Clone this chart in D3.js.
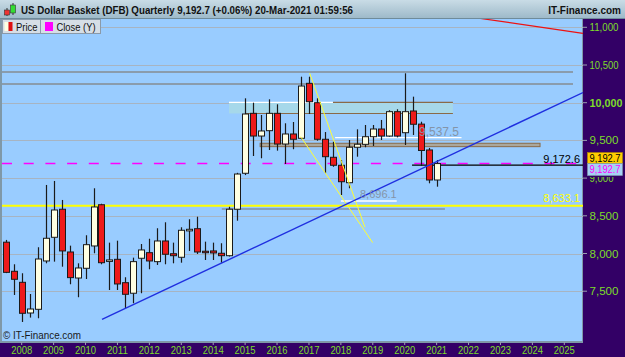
<!DOCTYPE html>
<html><head><meta charset="utf-8">
<script src="https://cdn.jsdelivr.net/npm/d3@7"></script>
<style>html,body{margin:0;padding:0;background:#fff}svg{display:block}text{font-family:"Liberation Sans",Arial,sans-serif}</style>
</head><body><svg id="c" width="625" height="357"></svg>
<script>
// ---------- data ----------
const quarters = ["2007Q3","2007Q4","2008Q1","2008Q2","2008Q3","2008Q4","2009Q1","2009Q2","2009Q3","2009Q4",
"2010Q1","2010Q2","2010Q3","2010Q4","2011Q1","2011Q2","2011Q3","2011Q4","2012Q1","2012Q2",
"2012Q3","2012Q4","2013Q1","2013Q2","2013Q3","2013Q4","2014Q1","2014Q2","2014Q3","2014Q4",
"2015Q1","2015Q2","2015Q3","2015Q4","2016Q1","2016Q2","2016Q3","2016Q4","2017Q1","2017Q2",
"2017Q3","2017Q4","2018Q1","2018Q2","2018Q3","2018Q4","2019Q1","2019Q2","2019Q3","2019Q4",
"2020Q1","2020Q2","2020Q3","2020Q4","2021Q1"];
const openV = [8150,7764,7618,7211,7260,7901,8215,8587,8020,7675,
7804,8100,8647,7900,7923,7613,7473,7937,8011,7892,
8166,7997,7950,8300,8329,8030,8034,8003,7971,8587,
9064,9859,9558,9629,9859,9452,9585,9528,10257,10000,
9515,9276,9170,8939,9409,9448,9549,9651,9558,9881,
9602,9890,9716,9373,8975];
const highV = [8180,7857,7738,7463,8083,8909,8962,8710,8104,7870,
8242,8865,8660,8144,8170,7685,7945,8126,8196,8335,
8414,8144,8348,8454,8488,8157,8144,8136,8620,9070,
10058,10000,9837,10045,9979,9727,9744,10345,10345,10058,
9611,9483,9240,9505,9647,9704,9704,9771,9900,9913,
10390,10080,9748,9400,9240];
const lowV = [7740,7450,7092,7150,7141,7870,7892,7825,7592,7420,
7662,8003,7857,7516,7516,7274,7340,7473,7791,7848,
7857,7870,7878,8034,7994,7914,7914,7878,7960,8435,
9040,9293,9263,9373,9364,9187,9383,9515,9850,9496,
9064,9150,8776,8865,9284,9409,9426,9505,9550,9540,
9439,9572,9161,8931,8886];
const closeV = [7750,7658,7207,7264,7927,8202,8577,8034,7680,7808,
8117,8617,7878,7915,7596,7459,7892,8047,7901,8166,
7990,7971,8308,8321,8020,8011,8007,7971,8587,9054,
9850,9558,9625,9859,9452,9585,9515,10221,10013,9515,
9284,9170,8952,9409,9449,9549,9651,9558,9881,9558,
9881,9714,9366,8975,9192.7];

const yTicks = [7500,8000,8500,9000,9500,10000,10500,11000];
const yTickLabels = ["7,500","8,000","8,500","9,000","9,500","10,000","10,500","11,000"];
const xYears = [2008,2009,2010,2011,2012,2013,2014,2015,2016,2017,2018,2019,2020,2021,2022,2023,2024,2025];

// drawn objects (decimal year, value)
const blueTrend = [[2010.516,7125],[2025.585,10135]];
const redTrend = [[2021.2,11190],[2025.585,10920]];
const yellowFan1 = [[2016.741,9549],[2018.996,8144]];
const yellowFan2 = [[2017.022,10390],[2018.755,8348]];
const brownLevels = [10407,10248];
const bandTeal = [2014.495,2021.51,10003,9857];
const bandGray = [2015.47,2024.24,9462,9417];
const whiteLevels = [[2014.495,2017.75,10003],[2017.82,2021.78,9537.5],[2018.0,2019.75,8696.1]];
const lastClose = 9192.7;
const blackLevel = [2020.23,9172.6];
const yellowLevel = 8633.1;
const grayLevel = [2014.27,2021.26,8590];

// ---------- layout ----------
const W=625,H=357, PL=2, PR=583, PT=19, PB=342;
const svg=d3.select("#c");
const defs=svg.append("defs");
const tg=defs.append("linearGradient").attr("id","tb").attr("x1",0).attr("y1",0).attr("x2",0).attr("y2",1);
tg.append("stop").attr("offset","0").attr("stop-color","#c9dce6");
tg.append("stop").attr("offset","1").attr("stop-color","#9cb8c8");
defs.append("clipPath").attr("id","pc").append("rect").attr("x",PL).attr("y",PT).attr("width",PR-PL).attr("height",PB-PT);

const x=d3.scaleLinear().domain([2008,2025]).range([21.7,564.3]);
const y=d3.scaleLinear().domain([10000,7500]).range([102.7,291.2]);
const qx = q => x(+q.slice(0,4) + (+q.slice(5)-1)*0.25);

// panels
svg.append("rect").attr("width",W).attr("height",H).attr("fill","#330066");
svg.append("rect").attr("x",0).attr("y",0).attr("width",W).attr("height",PT).attr("fill","url(#tb)");
svg.append("line").attr("x1",0).attr("x2",W).attr("y1",PT-0.5).attr("y2",PT-0.5).attr("stroke","#6f8b9a");
svg.append("rect").attr("x",0).attr("y",PT).attr("width",PR).attr("height",PB-PT+1).attr("fill","#7f98a8");
svg.append("rect").attr("x",PL).attr("y",PT).attr("width",PR-PL-1).attr("height",PB-PT-1).attr("fill","#99ccff");

const g=svg.append("g").attr("clip-path","url(#pc)");

// grid
g.selectAll("line.grid").data(yTicks).join("line").attr("class","grid")
 .attr("x1",PL).attr("x2",PR).attr("y1",d=>Math.round(y(d))+0.5).attr("y2",d=>Math.round(y(d))+0.5)
 .attr("stroke","#a7b4c2").attr("stroke-width",1);

// bands
g.append("rect").attr("x",x(bandTeal[0])).attr("width",x(bandTeal[1])-x(bandTeal[0]))
 .attr("y",y(bandTeal[2])).attr("height",y(bandTeal[3])-y(bandTeal[2])).attr("fill","#a6d8ea");
g.append("line").attr("x1",x(2017.75)).attr("x2",x(bandTeal[1])).attr("y1",y(bandTeal[2])).attr("y2",y(bandTeal[2])).attr("stroke","#8a6a48").attr("stroke-width",1.2);
g.append("line").attr("x1",x(2015.0)).attr("x2",x(bandTeal[1])).attr("y1",y(bandTeal[3])).attr("y2",y(bandTeal[3])).attr("stroke","#8a6a48").attr("stroke-width",1.2);
g.append("rect").attr("x",x(bandGray[0])).attr("width",x(bandGray[1])-x(bandGray[0]))
 .attr("y",y(bandGray[2])).attr("height",y(bandGray[3])-y(bandGray[2])).attr("fill","#a9a79e").attr("stroke","#8a6a48").attr("stroke-width",1);

// brown long levels
g.selectAll("line.br").data(brownLevels).join("line").attr("class","br")
 .attr("x1",PL).attr("x2",573).attr("y1",d=>y(d)).attr("y2",d=>y(d)).attr("stroke","#7d6c5c").attr("stroke-width",1.2);

// gray level near yellow
g.append("line").attr("x1",x(grayLevel[0])).attr("x2",x(grayLevel[1])).attr("y1",y(grayLevel[2])).attr("y2",y(grayLevel[2])).attr("stroke","#8292a6").attr("stroke-width",1.6);

// white levels
g.selectAll("line.wh").data(whiteLevels).join("line").attr("class","wh")
 .attr("x1",d=>x(d[0])).attr("x2",d=>x(d[1])).attr("y1",d=>y(d[2])).attr("y2",d=>y(d[2])).attr("stroke","#ffffff").attr("stroke-width",1.3);

// yellow level
g.append("line").attr("x1",PL).attr("x2",PR).attr("y1",y(yellowLevel)).attr("y2",y(yellowLevel)).attr("stroke","#ffff00").attr("stroke-width",2);

// magenta dashed close line
g.append("line").attr("x1",PL).attr("x2",PR).attr("y1",y(lastClose)).attr("y2",y(lastClose)).attr("stroke","#ff00ff").attr("stroke-width",1.5).attr("stroke-dasharray","10,11.7");
// black level
g.append("line").attr("x1",x(blackLevel[0])).attr("x2",PR).attr("y1",y(blackLevel[1])).attr("y2",y(blackLevel[1])).attr("stroke","#000").attr("stroke-width",1.2);

// candles
const idx=d3.range(quarters.length);
g.selectAll("line.wick").data(idx).join("line").attr("class","wick")
 .attr("x1",i=>Math.round(qx(quarters[i]))+0.5).attr("x2",i=>Math.round(qx(quarters[i]))+0.5)
 .attr("y1",i=>y(highV[i])).attr("y2",i=>y(lowV[i])).attr("stroke","#1a1a1a").attr("stroke-width",1.2);
g.selectAll("rect.body").data(idx).join("rect").attr("class","body")
 .attr("x",i=>Math.round(qx(quarters[i]))-2.5).attr("width",6)
 .attr("y",i=>y(Math.max(openV[i],closeV[i])))
 .attr("height",i=>Math.max(1.5,Math.abs(y(openV[i])-y(closeV[i]))))
 .attr("fill",i=>closeV[i]>=openV[i]?"#ffffe2":"#ee1a1a").attr("stroke","#1a1a1a").attr("stroke-width",1);

// trend lines
const ln=d3.line().x(d=>x(d[0])).y(d=>y(d[1]));
g.append("path").attr("d",ln(yellowFan1)).attr("stroke","#ffff33").attr("stroke-width",1).attr("fill","none");
g.append("path").attr("d",ln(yellowFan2)).attr("stroke","#ffff33").attr("stroke-width",1).attr("fill","none");
g.append("path").attr("d",ln(blueTrend)).attr("stroke","#1f2fe0").attr("stroke-width",1.4).attr("fill","none");
g.append("path").attr("d",ln(redTrend)).attr("stroke","#ee1111").attr("stroke-width",1.2).attr("fill","none");

// level labels
g.append("text").attr("x",419).attr("y",y(9537.5)-2).attr("font-size",12).attr("fill","#8494a8").text("9,537.5");
g.append("text").attr("x",360).attr("y",y(8696.1)-3).attr("font-size",11).attr("fill","#8494a8").text("8,696.1");
g.append("text").attr("x",580).attr("y",y(yellowLevel)-3.5).attr("text-anchor","end").attr("font-size",11).attr("fill","#ffff00").text("8,633.1");
g.append("text").attr("x",580).attr("y",y(blackLevel[1])-2.5).attr("text-anchor","end").attr("font-size",11).attr("fill","#000").text("9,172.6");

// copyright
svg.append("text").attr("x",3).attr("y",339).attr("font-size",10).attr("fill","#1a1a1a")
 .attr("textLength",78).attr("lengthAdjust","spacingAndGlyphs").text("© IT-Finance.com");

// y axis
svg.selectAll("line.yt").data(yTicks).join("line").attr("class","yt")
 .attr("x1",PR).attr("x2",PR+4).attr("y1",d=>y(d)).attr("y2",d=>y(d)).attr("stroke","#9aa0b0");
svg.selectAll("text.yl").data(yTicks.filter(d=>d!==9000)).join("text").attr("class","yl")
 .attr("x",589.5).attr("y",d=>y(d)+(d===10000?4.5:4)).attr("font-size",d=>d===10000?11.5:10.5).attr("font-weight",d=>d===10000?"bold":"normal")
 .attr("textLength",d=>d===10000?33:29).attr("lengthAdjust","spacingAndGlyphs")
 .attr("fill","#7ddc2a").text(d=>yTickLabels[yTicks.indexOf(d)]);
// 9,000 label: mostly hidden behind the value boxes, only lower part peeks out
defs.append("clipPath").attr("id","c9").append("rect").attr("x",585).attr("y",y(9000)-1).attr("width",40).attr("height",10);
svg.append("text").attr("clip-path","url(#c9)").attr("x",589.5).attr("y",y(9000)+4).attr("font-size",10.5)
 .attr("textLength",24).attr("lengthAdjust","spacingAndGlyphs").attr("fill","#7ddc2a").text(yTickLabels[3]);

// x axis
svg.selectAll("line.xt").data(xYears).join("line").attr("class","xt")
 .attr("x1",d=>x(d)).attr("x2",d=>x(d)).attr("y1",PB).attr("y2",PB+3).attr("stroke","#9aa0b0");
svg.selectAll("text.xl").data(xYears).join("text").attr("class","xl")
 .attr("x",d=>x(d)).attr("y",353.5).attr("text-anchor","middle").attr("font-size",10.5).attr("fill","#7ddc2a")
 .attr("textLength",21).attr("lengthAdjust","spacingAndGlyphs").text(d=>d);

// right-axis value boxes
const yc=y(lastClose);
svg.append("rect").attr("x",587.5).attr("y",yc-11).attr("width",35).attr("height",11).attr("fill","#ffcc00").attr("stroke","#b08a00").attr("stroke-width",0.6);
svg.append("text").attr("x",605).attr("y",yc-1.8).attr("text-anchor","middle").attr("font-size",10.5).attr("fill","#000")
 .attr("textLength",31).attr("lengthAdjust","spacingAndGlyphs").text("9,192.7");
svg.append("rect").attr("x",587.5).attr("y",yc).attr("width",35).attr("height",12).attr("fill","#a6d2f5").attr("stroke","#7f98a8").attr("stroke-width",0.6);
svg.append("text").attr("x",605).attr("y",yc+9.8).attr("text-anchor","middle").attr("font-size",10.5).attr("fill","#ff00ff")
 .attr("textLength",31).attr("lengthAdjust","spacingAndGlyphs").text("9,192.7");

// title
const ic=svg.append("g");
ic.append("line").attr("x1",7).attr("x2",7).attr("y1",8).attr("y2",16).attr("stroke","#333");
ic.append("rect").attr("x",4.5).attr("y",10).attr("width",5).attr("height",5).attr("fill","#ee3333").attr("stroke","#333").attr("stroke-width",0.6);
ic.append("line").attr("x1",13).attr("x2",13).attr("y1",3).attr("y2",15).attr("stroke","#333");
ic.append("rect").attr("x",10.5).attr("y",5).attr("width",5).attr("height",8).attr("fill","#33dd33").attr("stroke","#333").attr("stroke-width",0.6);
svg.append("text").attr("x",21).attr("y",14).attr("font-size",11.5).attr("font-weight","bold").attr("fill","#111")
 .attr("textLength",332).attr("lengthAdjust","spacingAndGlyphs")
 .text("US Dollar Basket (DFB) Quarterly 9,192.7 (+0.06%) 20-Mar-2021 01:59:56");
svg.append("text").attr("x",621).attr("y",14).attr("text-anchor","end").attr("font-size",10).attr("font-weight","bold").attr("fill","#111")
 .text("IT-Finance.com");

// legend
svg.append("rect").attr("x",2.5).attr("y",19.5).attr("width",38).attr("height",14).attr("fill","#d6dee6").attr("stroke","#8a9aaa");
svg.append("rect").attr("x",40.5).attr("y",19.5).attr("width",60).attr("height",14).attr("fill","#d6dee6").attr("stroke","#8a9aaa");
svg.append("rect").attr("x",4.5).attr("y",22).attr("width",4).attr("height",9).attr("fill","#ffffe2");
svg.append("rect").attr("x",8.5).attr("y",22).attr("width",4).attr("height",9).attr("fill","#dd1111");
svg.append("text").attr("x",16).attr("y",30.5).attr("font-size",10.5).attr("fill","#111")
 .attr("textLength",21.5).attr("lengthAdjust","spacingAndGlyphs").text("Price");
svg.append("rect").attr("x",45).attr("y",22).attr("width",8).attr("height",9).attr("fill","#ff00ff");
svg.append("text").attr("x",56.5).attr("y",30.5).attr("font-size",10.5).attr("fill","#111")
 .attr("textLength",39).attr("lengthAdjust","spacingAndGlyphs").text("Close (Y)");
</script></body></html>
